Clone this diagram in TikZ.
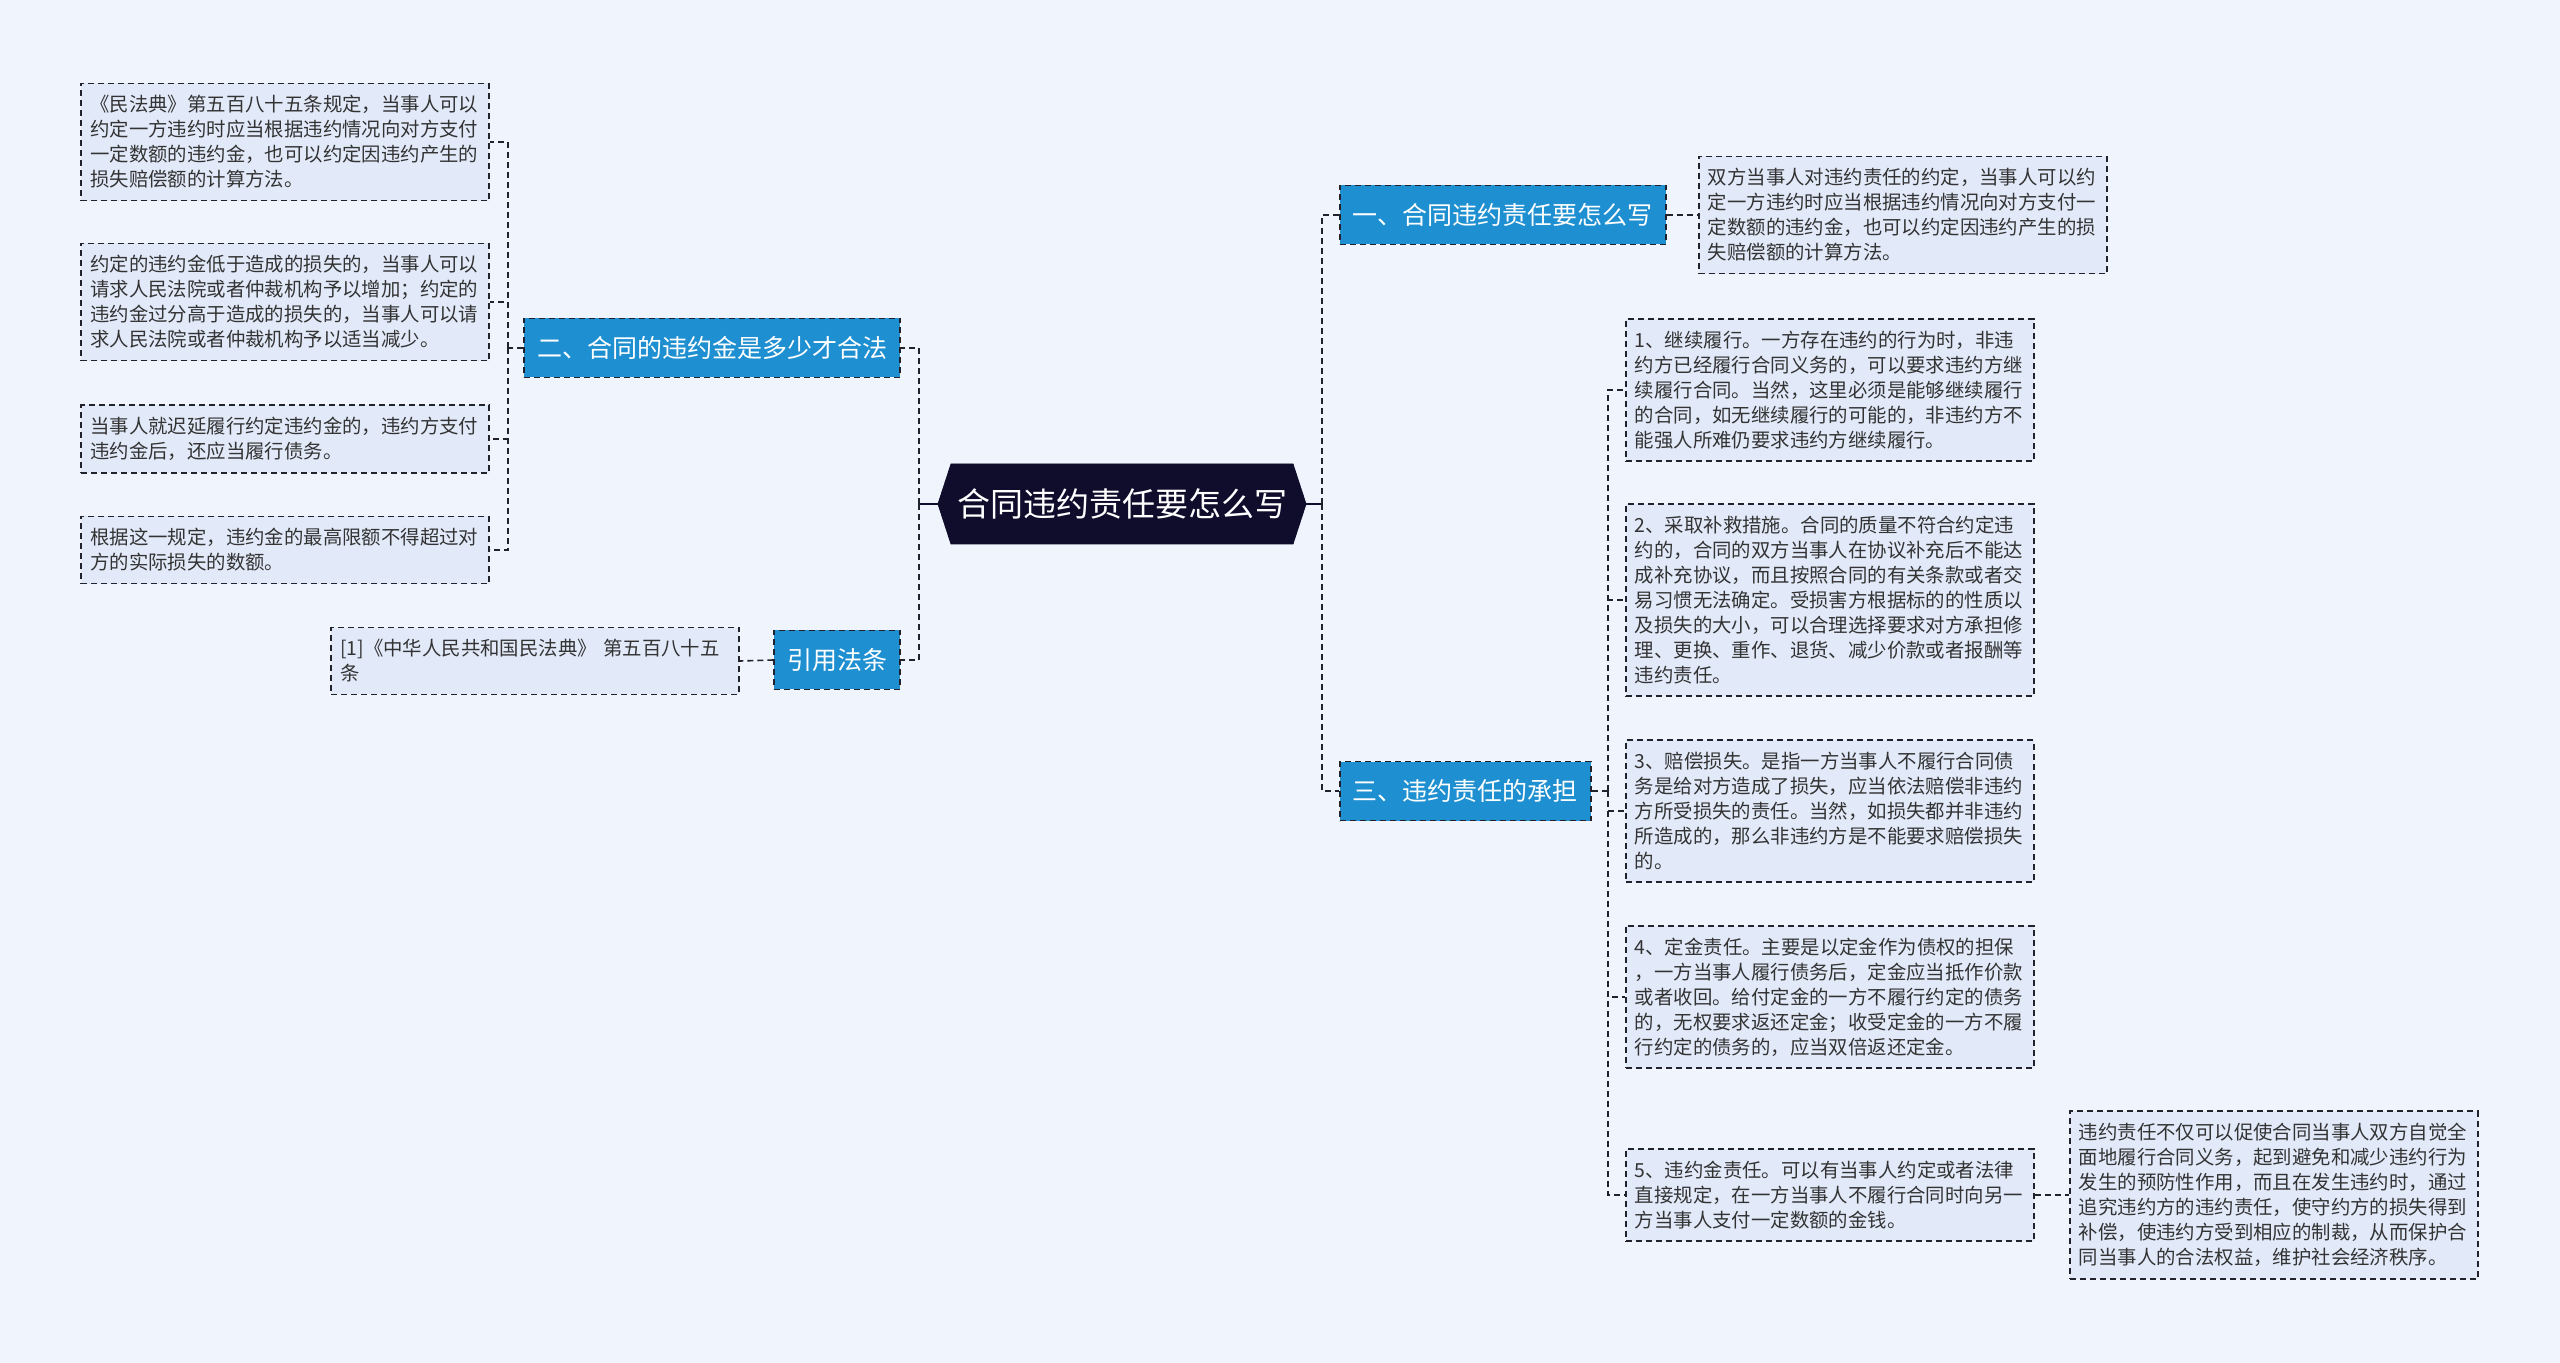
\documentclass[tikz,border=0pt]{standalone}
\usepackage{fontspec}
\setmainfont{Noto Sans CJK SC}
\usepackage{tikz}
\usetikzlibrary{positioning,shapes.symbols}
\definecolor{bgpale}{RGB}{239,244,253}
\definecolor{leaffill}{RGB}{226,234,250}
\definecolor{topicnavy}{RGB}{16,12,44}
\definecolor{branchblue}{RGB}{30,143,208}
\definecolor{linkgray}{RGB}{34,34,44}
\definecolor{leaftext}{RGB}{51,51,51}
\tikzset{topic/.style={signal, signal to=east and west, signal pointer angle=144, fill=topicnavy, draw=topicnavy, text=white, font=\fontsize{16.5}{20}\selectfont, inner xsep=3pt, minimum height=40pt}}
\tikzset{branchbox/.style={draw=linkgray, dash pattern=on 3pt off 2pt, line width=0.8pt, fill=branchblue, text=white, font=\fontsize{12.5}{15}\selectfont, inner xsep=6.5pt, minimum height=29.5pt}}
\tikzset{leafbox/.style={draw=linkgray, dash pattern=on 3pt off 2pt, line width=0.8pt, fill=leaffill, text=leaftext, font=\fontsize{9.7}{12.5}\selectfont, text width=195pt, align=left, inner xsep=4.5pt, inner ysep=6pt}}
\tikzset{lnk/.style={draw=linkgray, dash pattern=on 3pt off 2pt, line width=0.8pt}}
\tikzset{lnk0/.style={draw=topicnavy, line width=1pt}}

\begin{document}
\begin{tikzpicture}[x=0.5pt, y=-0.5pt]
                \fill[bgpale] (0,0) rectangle (2560,1363);
                \useasboundingbox (0,0) rectangle (2560,1363);
                %
                \node[topic] (T) at (1122,504) {合同违约责任要怎么写};
                \node[branchbox, anchor=west] (B1) at (1339,215) {一、合同违约责任要怎么写};
                \node[branchbox, anchor=east] (B2) at (901,348) {二、合同的违约金是多少才合法};
                \node[branchbox, anchor=west] (B3) at (1339,791) {三、违约责任的承担};
                \node[branchbox, anchor=east] (B4) at (901,660) {引用法条};
                %
                \node[leafbox, anchor=east] (LL1) at (490,142) {《民法典》第五百八十五条规定，当事人可以\\约定一方违约时应当根据违约情况向对方支付\\一定数额的违约金，也可以约定因违约产生的\\损失赔偿额的计算方法。};
                \node[leafbox, anchor=east] (LL2) at (490,302) {约定的违约金低于造成的损失的，当事人可以\\请求人民法院或者仲裁机构予以增加；约定的\\违约金过分高于造成的损失的，当事人可以请\\求人民法院或者仲裁机构予以适当减少。};
                \node[leafbox, anchor=east] (LL3) at (490,439) {当事人就迟延履行约定违约金的，违约方支付\\违约金后，还应当履行债务。};
                \node[leafbox, anchor=east] (LL4) at (490,550) {根据这一规定，违约金的最高限额不得超过对\\方的实际损失的数额。};
                \node[leafbox, anchor=east] (Q1) at (740,661) {[1]《中华人民共和国民法典》 第五百八十五\\条};
                %
                \node[leafbox, anchor=west] (R1) at (1698,215) {双方当事人对违约责任的约定，当事人可以约\\定一方违约时应当根据违约情况向对方支付一\\定数额的违约金，也可以约定因违约产生的损\\失赔偿额的计算方法。};
                \node[leafbox, anchor=west] (L1) at (1625,390) {1、继续履行。一方存在违约的行为时，非违\\约方已经履行合同义务的，可以要求违约方继\\续履行合同。当然，这里必须是能够继续履行\\的合同，如无继续履行的可能的，非违约方不\\能强人所难仍要求违约方继续履行。};
                \node[leafbox, anchor=west] (L2) at (1625,600) {2、采取补救措施。合同的质量不符合约定违\\约的，合同的双方当事人在协议补充后不能达\\成补充协议，而且按照合同的有关条款或者交\\易习惯无法确定。受损害方根据标的的性质以\\及损失的大小，可以合理选择要求对方承担修\\理、更换、重作、退货、减少价款或者报酬等\\违约责任。};
                \node[leafbox, anchor=west] (L3) at (1625,811) {3、赔偿损失。是指一方当事人不履行合同债\\务是给对方造成了损失，应当依法赔偿非违约\\方所受损失的责任。当然，如损失都并非违约\\所造成的，那么非违约方是不能要求赔偿损失\\的。};
                \node[leafbox, anchor=west] (L4) at (1625,997) {4、定金责任。主要是以定金作为债权的担保\\，一方当事人履行债务后，定金应当抵作价款\\或者收回。给付定金的一方不履行约定的债务\\的，无权要求返还定金；收受定金的一方不履\\行约定的债务的，应当双倍返还定金。};
                \node[leafbox, anchor=west] (L5) at (1625,1195) {5、违约金责任。可以有当事人约定或者法律\\直接规定，在一方当事人不履行合同时向另一\\方当事人支付一定数额的金钱。};
                \node[leafbox, anchor=west] (L5x) at (2069,1195) {违约责任不仅可以促使合同当事人双方自觉全\\面地履行合同义务，起到避免和减少违约行为\\发生的预防性作用，而且在发生违约时，通过\\追究违约方的违约责任，使守约方的损失得到\\补偿，使违约方受到相应的制裁，从而保护合\\同当事人的合法权益，维护社会经济秩序。};
                %
                \coordinate (RT) at (1322,504);
                \coordinate (LT) at (919,504);
                \coordinate (B2T) at (508,348);
                \coordinate (B3T) at (1608,791);
                %
                \draw[lnk0] (T.east) -- (RT);
                \draw[lnk] (RT) |- (B1.west);
                \draw[lnk] (RT) |- (B3.west);
                \draw[lnk0] (T.west) -- (LT);
                \draw[lnk] (LT) |- (B2.east);
                \draw[lnk] (LT) |- (B4.east);
                %
                \draw[lnk] (B1.east) -- (R1.west);
                \draw[lnk] (B2.west) -- (B2T);
                \foreach \n in {LL1,LL2,LL3,LL4}
                    \draw[lnk] (B2T) |- (\n.east);
                \draw[lnk] (B4.west) -- (Q1.east);
                \draw[lnk] (B3.east) -- (B3T);
                \foreach \n in {L1,L2,L3,L4,L5}
                    \draw[lnk] (B3T) |- (\n.west);
                \draw[lnk] (L5.east) -- (L5x.west);
                %
            \end{tikzpicture}
\end{document}
